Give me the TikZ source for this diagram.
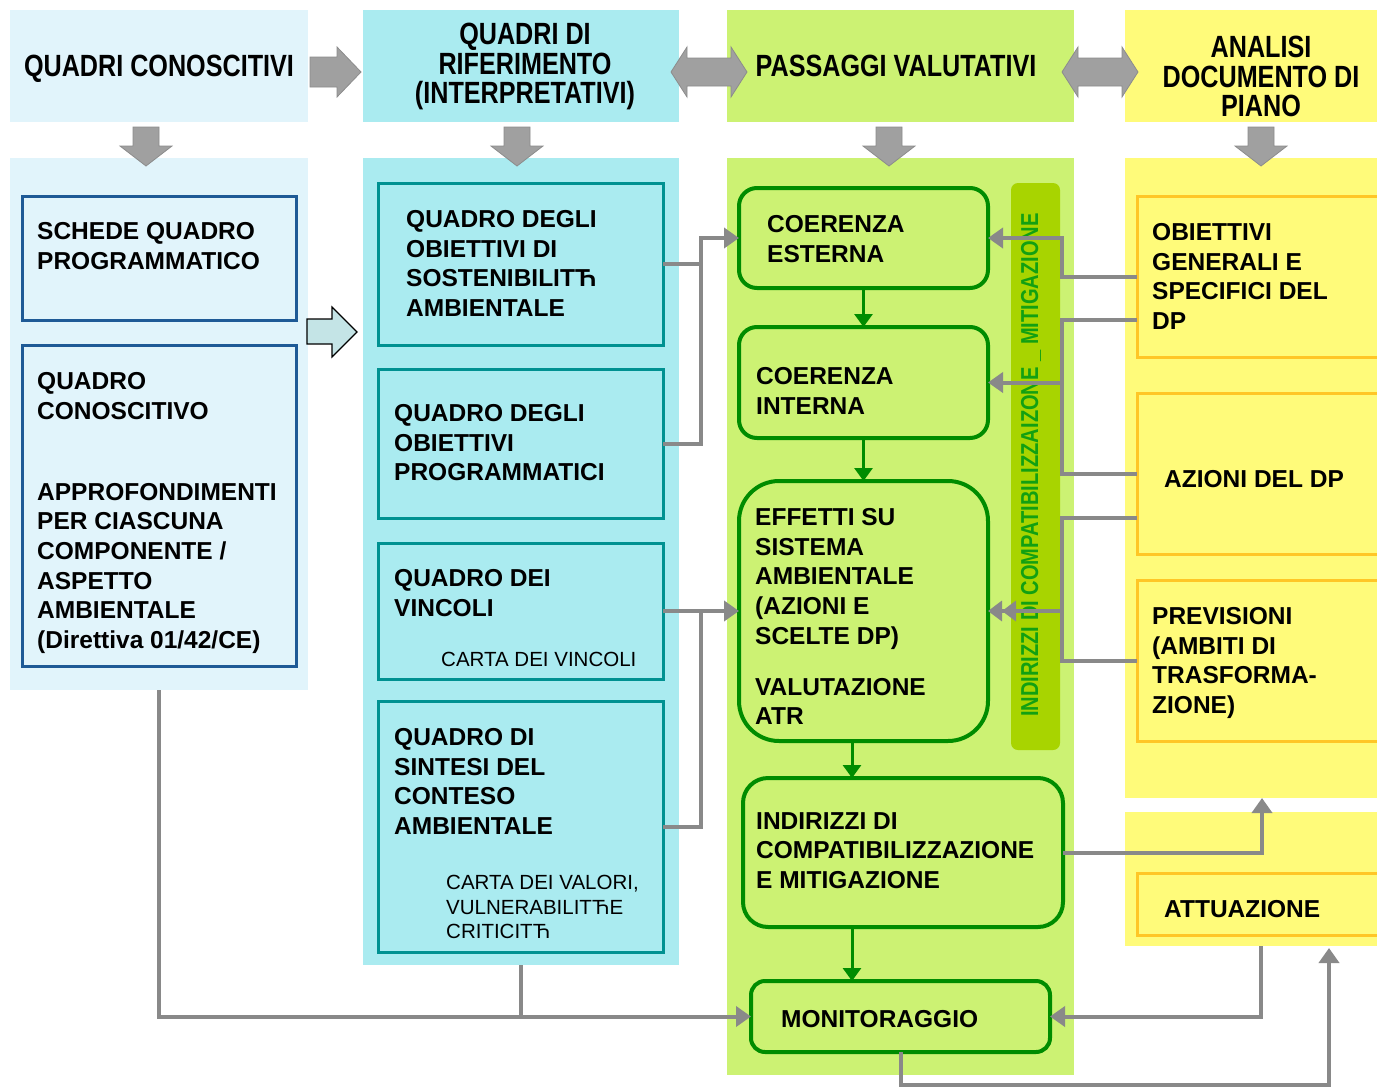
\documentclass[tikz,border=0pt]{standalone}
\usepackage{fontspec}
\setmainfont{Liberation Sans}
\newfontfamily\narrowf[FakeStretch=0.82]{Liberation Sans}
\usetikzlibrary{arrows.meta,calc}

\newcommand\bodyf{\fontsize{24.5}{29.7}\selectfont\bfseries}
\newcommand\smallf{\fontsize{20.5}{24.5}\selectfont}
\newcommand\headf{\narrowf\bfseries\fontsize{30.7}{29.5}\selectfont}
\newcommand\vertf{\narrowf\bfseries\fontsize{24.5}{30}\selectfont}

\definecolor{c1}{HTML}{E1F4FB}
\definecolor{c2}{HTML}{AAEBF0}
\definecolor{c3}{HTML}{CCF273}
\definecolor{c4}{HTML}{FFFB7A}
\definecolor{barg}{HTML}{A8D400}
\definecolor{gbord}{HTML}{008C00}
\definecolor{bbord}{HTML}{1E5A96}
\definecolor{tbord}{HTML}{009191}
\definecolor{obord}{HTML}{FFC626}
\definecolor{lgray}{HTML}{898989}
\definecolor{agray}{HTML}{A0A0A0}
\definecolor{agrayd}{HTML}{8C8C8C}
\definecolor{vtxt}{HTML}{12A012}
\definecolor{sarrow}{HTML}{C4E4E6}

\tikzset{
  bx/.style n args={2}{minimum width=#1, minimum height=#2, anchor=north west, inner sep=0pt, outer sep=0pt},
  txt/.style={anchor=north west, inner sep=0pt, align=left, font=\bodyf},
  stxt/.style={anchor=north west, inner sep=0pt, align=left, font=\smallf},
  htxt/.style={anchor=north, inner sep=0pt, align=center, font=\headf},
  bluebox/.style={draw=bbord, line width=3pt, fill=c1},
  tealbox/.style={draw=tbord, line width=3pt, fill=c2},
  greenbox/.style={draw=gbord, line width=4pt, fill=c3},
  orangebox/.style={draw=obord, line width=3pt, fill=c4},
  blockarrow/.style={fill=agray, draw=agrayd, line width=0.8pt},
  gline/.style={draw=lgray, line width=4pt},
  garr/.style={gline, -{Triangle[length=15pt,width=20pt]}},
  garrtwo/.style={gline, -{Triangle[length=14pt,width=20pt]Triangle[length=14pt,width=20pt]}},
  grarr/.style={draw=gbord, line width=3pt, -{Triangle[length=13pt,width=18pt]}},
}

\begin{document}
\begin{tikzpicture}[x=1pt,y=-1pt]
\clip (0,0) rectangle (1377,1087);
\fill[white] (0,0) rectangle (1377,1087);

% header boxes
\node[fill=c1, bx={298pt}{112pt}] (h1) at (10,10) {};
\node[fill=c2, bx={316pt}{112pt}] (h2) at (363,10) {};
\node[fill=c3, bx={347pt}{112pt}] (h3) at (727,10) {};
\node[fill=c4, bx={262pt}{112pt}] (h4) at (1125,10) {};

% column boxes
\node[fill=c1, bx={298pt}{532pt}] (col1) at (10,158) {};
\node[fill=c2, bx={316pt}{807pt}] (col2) at (363,158) {};
\node[fill=c3, bx={347pt}{917pt}] (col3) at (727,158) {};
\node[fill=c4, bx={252pt}{640pt}] (col4) at (1125,158) {};
\node[fill=c4, bx={252pt}{134pt}] (col4b) at (1125,812) {};

% header block arrows
\draw[blockarrow] (310,57) -- (337,57) -- (337,47) -- (361,72) -- (337,97) -- (337,87) -- (310,87) -- cycle;
\draw[blockarrow] (671,72) -- (687,47) -- (687,58) -- (731,58) -- (731,47) -- (747,72) -- (731,97) -- (731,86) -- (687,86) -- (687,97) -- cycle;
\draw[blockarrow] (1062,72) -- (1078,47) -- (1078,58) -- (1122,58) -- (1122,47) -- (1138,72) -- (1122,97) -- (1122,86) -- (1078,86) -- (1078,97) -- cycle;
\foreach \cx in {146,517,889,1261}{
  \draw[blockarrow] (\cx-13,127) -- (\cx+13,127) -- (\cx+13,146) -- (\cx+26,146) -- (\cx,166) -- (\cx-26,146) -- (\cx-13,146) -- cycle;
}
% small light arrow
\draw[fill=sarrow, draw=black, line width=1.2pt, line join=miter] (307,319) -- (332,319) -- (332,307) -- (357,332) -- (332,357) -- (332,344) -- (307,344) -- cycle;

% header texts
\node[htxt] (th1) at (159,55) {QUADRI CONOSCITIVI};
\node[htxt] (th2) at (525,23) {QUADRI DI\\RIFERIMENTO\\(INTERPRETATIVI)};
\node[htxt] (th3) at (896,55) {PASSAGGI VALUTATIVI};
\node[htxt] (th4) at (1261,36) {ANALISI\\DOCUMENTO DI\\PIANO};

% column 1
\node[bluebox, bx={274pt}{124pt}] (b1) at (22,196) {};
\node[bluebox, bx={274pt}{321pt}] (b2) at (22,345) {};
\node[txt] (tb1) at (37,222) {SCHEDE QUADRO\\PROGRAMMATICO};
\node[txt] (tb2) at (37,372) {QUADRO\\CONOSCITIVO\\[51.3pt]APPROFONDIMENTI\\PER CIASCUNA\\COMPONENTE /\\ASPETTO\\AMBIENTALE\\(Direttiva 01/42/CE)};

% column 2
\node[tealbox, bx={285pt}{162pt}] (d1) at (378,183) {};
\node[tealbox, bx={285pt}{149pt}] (d2) at (378,369) {};
\node[tealbox, bx={285pt}{136pt}] (d3) at (378,543) {};
\node[tealbox, bx={285pt}{251pt}] (d4) at (378,701) {};
\node[txt] (td1) at (406,210) {QUADRO DEGLI\\OBIETTIVI DI\\SOSTENIBILITЋ\\AMBIENTALE};
\node[txt] (td2) at (394,404) {QUADRO DEGLI\\OBIETTIVI\\PROGRAMMATICI};
\node[txt] (td3) at (394,569) {QUADRO DEI\\VINCOLI};
\node[stxt] (sd3) at (441,652) {CARTA DEI VINCOLI};
\node[txt] (td4) at (394,728) {QUADRO DI\\SINTESI DEL\\CONTESO\\AMBIENTALE};
\node[stxt] (sd4) at (446,875) {CARTA DEI VALORI,\\VULNERABILITЋE\\CRITICITЋ};

% column 3
\node[greenbox, rounded corners=18pt, bx={249pt}{100pt}] (e1) at (739,188) {};
\node[greenbox, rounded corners=18pt, bx={249pt}{111pt}] (e2) at (739,327) {};
\node[greenbox, rounded corners=40pt, bx={249pt}{260pt}] (e3) at (739,481) {};
\node[greenbox, rounded corners=25pt, bx={320pt}{149pt}] (e4) at (743,778) {};
\node[greenbox, rounded corners=14pt, bx={299pt}{71pt}] (e5) at (751,981) {};
\node[txt] (te1) at (767,215) {COERENZA\\ESTERNA};
\node[txt] (te2) at (756,367) {COERENZA\\INTERNA};
\node[txt] (te3) at (755,508) {EFFETTI SU\\SISTEMA\\AMBIENTALE\\(AZIONI E\\SCELTE DP)\\[21.3pt]VALUTAZIONE\\ATR};
\node[txt] (te4) at (756,812) {INDIRIZZI DI\\COMPATIBILIZZAZIONE\\E MITIGAZIONE};
\node[txt] (te5) at (781,1010) {MONITORAGGIO};

\node[fill=barg, rounded corners=7pt, bx={49pt}{567pt}] (bar) at (1011,183) {};
\node[rotate=90, inner sep=0pt, font=\vertf, text=vtxt] (vt) at (1031,465) {INDIRIZZI DI COMPATIBILIZZAIZONE \_ MITIGAZIONE};

% column 4
\node[orangebox, bx={260pt}{161pt}] (f1) at (1137,196) {};
\node[orangebox, bx={260pt}{161pt}] (f2) at (1137,393) {};
\node[orangebox, bx={260pt}{161pt}] (f3) at (1137,580) {};
\node[orangebox, bx={260pt}{62pt}] (f4) at (1137,873) {};
\node[txt] (tf1) at (1152,223) {OBIETTIVI\\GENERALI E\\SPECIFICI DEL\\DP};
\node[txt] (tf2) at (1164,470) {AZIONI DEL DP};
\node[txt] (tf3) at (1152,607) {PREVISIONI\\(AMBITI DI\\TRASFORMA-\\ZIONE)};
\node[txt] (tf4) at (1164,900) {ATTUAZIONE};

% green connectors
\coordinate (gx) at (852,0);
\draw[grarr] (e1.south) -- (e2.north);
\draw[grarr] (e2.south) -- (e3.north);
\draw[grarr] (e3.south -| gx) -- (e4.north -| gx);
\draw[grarr] (e4.south -| gx) -- (e5.north -| gx);

% gray connectors, left
\coordinate (lx) at (701,0);
\coordinate (rx) at (1062,0);
\draw[gline] (d1.east) -- (d1.east -| lx);
\draw[garr] (d2.east) -| (e1.west -| lx) -- (e1.west);
\draw[garr] (d3.east) -- (e3.west);
\draw[gline] (d4.east) -| (d3.east -| lx);

% gray connectors, right
\draw[garr] (f1.west) -| (e1.east -| rx) -- (e1.east);
\draw[gline] ([yshift=-43.5pt]f1.west) -| (f2.west -| rx) -- (f2.west);
\draw[garr] (e2.east -| rx) -- (e2.east);
\draw[gline] ([yshift=-44.5pt]f2.west) -| (f3.west -| rx) -- (f3.west);
\draw[garrtwo] (e3.east -| rx) -- (e3.east);
\draw[garr] (e4.east) -| ([xshift=11pt]col4.south);

% gray connectors, bottom
\draw[garr] (col1.south) |- (e5.west);
\draw[gline] (col2.south) -- (col2.south |- e5.west);
\draw[garr] ([xshift=10pt]col4b.south) |- (e5.east);
\draw[garr] (e5.south) -- ++(0,33) -| ([xshift=78pt,yshift=-2pt]col4b.south);
\end{tikzpicture}
\end{document}
